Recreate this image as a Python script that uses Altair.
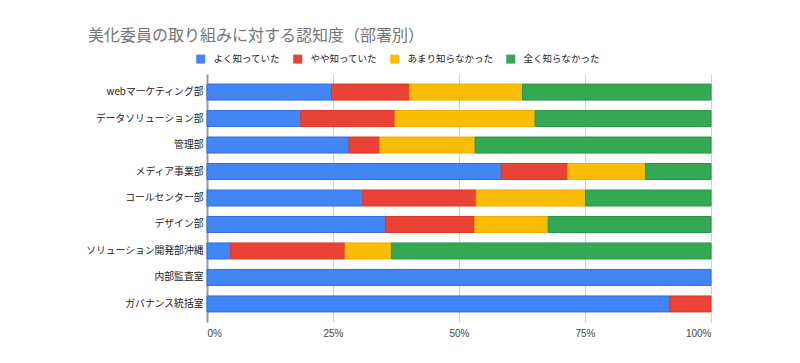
import altair as alt
import pandas as pd

departments = ["webマーケティング部", "データソリューション部", "管理部", "メディア事業部",
               "コールセンター部", "デザイン部", "ソリューション開発部沖縄", "内部監査室", "ガバナンス統括室"]
categories = ["よく知っていた", "やや知っていた", "あまり知らなかった", "全く知らなかった"]
well_known = [24.7, 18.6, 28.2, 58.4, 30.9, 35.4, 4.7, 100.0, 91.8]
some_known = [15.5, 18.7, 6.1, 13.2, 22.5, 17.7, 22.7, 0.0, 8.2]
little_known = [22.4, 27.8, 18.9, 15.4, 21.7, 14.6, 9.2, 0.0, 0.0]
not_known = [37.4, 34.9, 46.8, 13.0, 24.9, 32.3, 63.4, 0.0, 0.0]
colors = ["#4285F4", "#EA4335", "#FBBC04", "#34A853"]
strokes = ["#2f6fe0", "#d9372a", "#f0ad00", "#2a9548"]

rows = []
for series_idx, (cat, vals) in enumerate(zip(categories, [well_known, some_known, little_known, not_known])):
    for dept, v in zip(departments, vals):
        if v > 0:
            rows.append({"dept": dept, "cat": cat, "value": v, "order": series_idx})
df = pd.DataFrame(rows)

chart = alt.Chart(df).mark_bar(strokeWidth=1).encode(
    y=alt.Y("dept:N", sort=departments, title=None,
            scale=alt.Scale(paddingInner=0.395, paddingOuter=0.38),
            axis=alt.Axis(ticks=False, labelPadding=4, labelFontSize=9.8,
                          labelColor="#222222", labelFont="Noto Sans CJK JP",
                          domainColor="#999999", domainWidth=2, grid=False)),
    x=alt.X("value:Q", stack="zero", title=None,
            scale=alt.Scale(domain=[0, 100], nice=False),
            axis=alt.Axis(values=[0, 25, 50, 75, 100], labelExpr="datum.value + '%'",
                          ticks=False, domain=False, labelPadding=6, labelFontSize=10,
                          labelColor="#444444", labelFont="Liberation Sans",
                          gridColor="#d0d0d0", gridWidth=1)),
    color=alt.Color("cat:N", scale=alt.Scale(domain=categories, range=colors),
                    legend=alt.Legend(title=None, orient="none", direction="horizontal",
                                      legendX=-11, legendY=-20, symbolType="square",
                                      symbolSize=81, symbolStrokeWidth=0, labelFontSize=9.5,
                                      labelFont="Noto Sans CJK JP", labelColor="#222222",
                                      labelOffset=8, columnPadding=12, padding=0)),
    stroke=alt.Stroke("cat:N", scale=alt.Scale(domain=categories, range=strokes), legend=None),
    order=alt.Order("order:Q"),
).properties(
    width=504, height=248,
    title=alt.TitleParams("美化委員の取り組みに対する認知度（部署別）", anchor="start", frame="group",
                          dx=-119, offset=10, fontSize=16, fontWeight="normal", color="#757575",
                          font="Noto Sans CJK JP"),
    autosize=alt.AutoSizeParams(type="none"),
    padding={"left": 199, "top": 66, "right": 81, "bottom": 33},
).configure_view(stroke=None)

chart.save("out.html", embed_options={"renderer": "svg", "actions": False})
